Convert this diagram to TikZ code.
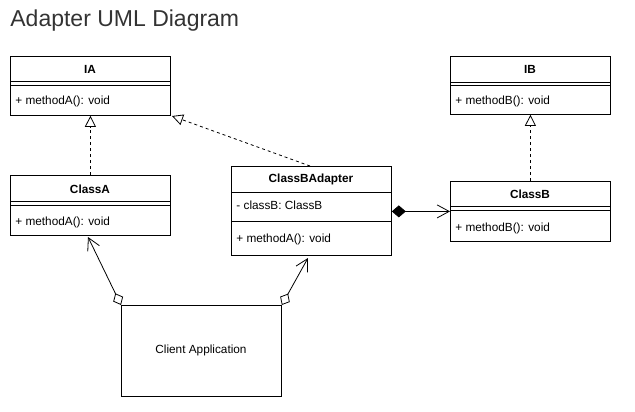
\documentclass[tikz,border=0pt]{standalone}
\usepackage{fontspec}
\setmainfont{Liberation Sans}
\usetikzlibrary{arrows.meta}
\begin{document}
\begin{tikzpicture}[x=1pt,y=-1pt,line width=0.8pt,
  cls/.style={draw,minimum width=160pt,inner sep=0pt,anchor=north west},
  ttl/.style={font=\bfseries\fontsize{11.8}{13}\selectfont},
  mem/.style={anchor=west,inner sep=0pt,font=\fontsize{11.8}{13}\selectfont},
  real/.style={dash pattern=on 3pt off 3pt,-{Triangle[open,length=11pt,width=11pt]}},
  opn/.style={-{Straight Barb[length=12pt,width=13pt]}},
  sep/.style={line width=0.8pt}]
\useasboundingbox (0,0) rectangle (635,412);
\node[anchor=west,inner sep=0pt,text=black!80,font=\fontsize{23}{27}\selectfont] (title) at (10,21) {Adapter UML Diagram};
% IA
\node[cls,minimum height=59pt] (IA) at (10,56) {};
\node[ttl] (IAt) at (90,69) {IA};
\draw[sep] (10,81) -- (170,81) (10,85) -- (170,85);
\node[mem] (IAm) at (15,101) {+ methodA(): void};
% ClassA
\node[cls,minimum height=60pt] (CA) at (10,175) {};
\node[ttl] (CAt) at (90,189) {ClassA};
\draw[sep] (10,201) -- (170,201) (10,205) -- (170,205);
\node[mem] (CAm) at (15,222) {+ methodA(): void};
% ClassBAdapter
\node[cls,minimum height=89pt] (CBA) at (231,166) {};
\node[ttl] (CBAt) at (311,179) {ClassBAdapter};
\draw[sep] (231,192) -- (391,192) (231,221) -- (391,221);
\node[mem] (CBAf) at (236,205) {- classB: ClassB};
\node[mem] (CBAm) at (236,239) {+ methodA(): void};
% IB
\node[cls,minimum height=58pt] (IB) at (450,56) {};
\node[ttl] (IBt) at (530,69) {IB};
\draw[sep] (450,82) -- (610,82) (450,85) -- (610,85);
\node[mem] (IBm) at (455,101) {+ methodB(): void};
% ClassB
\node[cls,minimum height=60pt] (CB) at (450,181) {};
\node[ttl] (CBt) at (530,194) {ClassB};
\draw[sep] (450,206) -- (610,206) (450,210) -- (610,210);
\node[mem] (CBm) at (455,228) {+ methodB(): void};
% Client
\node[cls,minimum height=91pt] (CL) at (121,305) {};
\node[font=\fontsize{11.8}{13}\selectfont] (CLt) at (201,350) {Client Application};
% connectors
\coordinate (cbaTop) at (310,166);
\coordinate (iaEnd) at (172,116);
\coordinate (aTip) at (88,237);
\coordinate (cbaTip) at (308,258);
\draw[real] (CA.north) -- (IA.south);
\draw[real] (cbaTop) -- (iaEnd);
\draw[real] (CB.north) -- (IB.south);
\draw[{Diamond[length=14pt,width=12pt]}-{Straight Barb[length=12pt,width=13pt]}] (CBA.east |- CB.west) -- (CB.west);
\draw[{Diamond[open,fill=white,length=13pt,width=11pt]}-{Straight Barb[length=12pt,width=13pt]}] (CL.north west) -- (aTip);
\draw[{Diamond[open,fill=white,length=13pt,width=11pt]}-{Straight Barb[length=12pt,width=13pt]}] (CL.north east) -- (cbaTip);
\end{tikzpicture}
\end{document}
